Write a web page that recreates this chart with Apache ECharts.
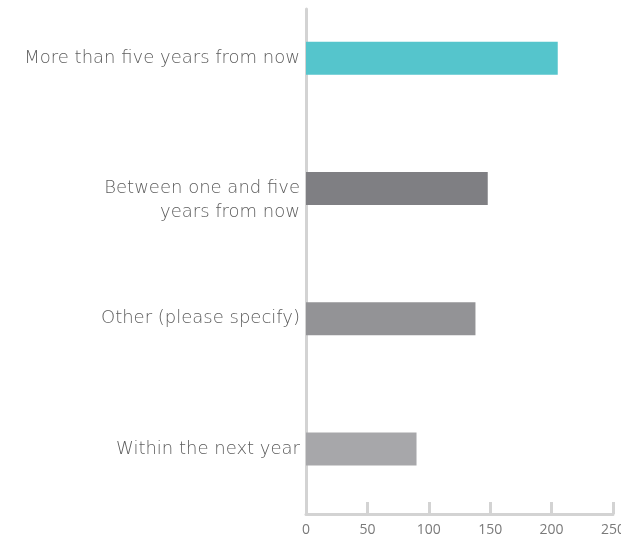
<!DOCTYPE html>
<html>
<head>
<meta charset="utf-8">
<script src="https://cdn.jsdelivr.net/npm/echarts@6/dist/echarts.min.js"></script>
<style>
html,body{margin:0;padding:0;background:#fff;}
#c{width:621px;height:539px;}
</style>
</head>
<body>
<div id="c"></div>
<script>
const categories = [
  "More than five years from now",
  "Between one and five\nyears from now",
  "Other (please specify)",
  "Within the next year"
];
const values = [205, 148, 138, 90];
const barColors = ["#55c5cc", "#7f7f83", "#939396", "#a7a7aa"];
const xTicks = [0, 50, 100, 150, 200, 250];

const chart = echarts.init(document.getElementById('c'), null, {renderer: 'canvas'});
const FONT = '"DejaVu Sans", sans-serif';
const TICKFONT = '"Open Sans", "Noto Sans", sans-serif';

chart.setOption({
  animation: false,
  backgroundColor: '#ffffff',
  grid: [
    {left: 306, right: 8, top: -7, bottom: 25, containLabel: false, outerBoundsMode: 'none'},
    {left: 306, width: 1, top: 9, bottom: 25, containLabel: false, outerBoundsMode: 'none'}
  ],
  xAxis: [
    {
      gridIndex: 0,
      type: 'value',
      min: xTicks[0],
      max: xTicks[xTicks.length - 1],
      interval: 50,
      axisLine: {show: true, lineStyle: {color: '#d3d3d3', width: 3}},
      axisTick: {show: true, inside: true, length: 12, lineStyle: {color: '#d3d3d3', width: 3}},
      splitLine: {show: false},
      axisLabel: {color: '#7a7a7a', fontSize: 14, fontFamily: TICKFONT, margin: 9}
    },
    {
      gridIndex: 1, type: 'value', show: false, min: 0, max: 1
    }
  ],
  yAxis: [
    {
      gridIndex: 0,
      type: 'category',
      inverse: true,
      data: categories,
      axisLine: {show: false},
      axisTick: {show: false},
      axisLabel: {
        color: '#5c5c5c', fontSize: 18, fontWeight: 300, fontFamily: FONT, margin: 6, lineHeight: 24, align: 'right',
        formatter: v => (v.indexOf('\n') >= 0 ? '\n' + v : v)
      }
    },
    {
      gridIndex: 1,
      type: 'value',
      min: 0, max: 1,
      axisLine: {show: true, onZero: false, lineStyle: {color: '#d3d3d3', width: 3}},
      axisTick: {show: false},
      axisLabel: {show: false},
      splitLine: {show: false}
    }
  ],
  series: [{
    type: 'bar',
    xAxisIndex: 0,
    yAxisIndex: 0,
    barWidth: 33,
    data: values.map((v, i) => ({value: v, itemStyle: {color: barColors[i]}}))
  }]
});
</script>
</body>
</html>
